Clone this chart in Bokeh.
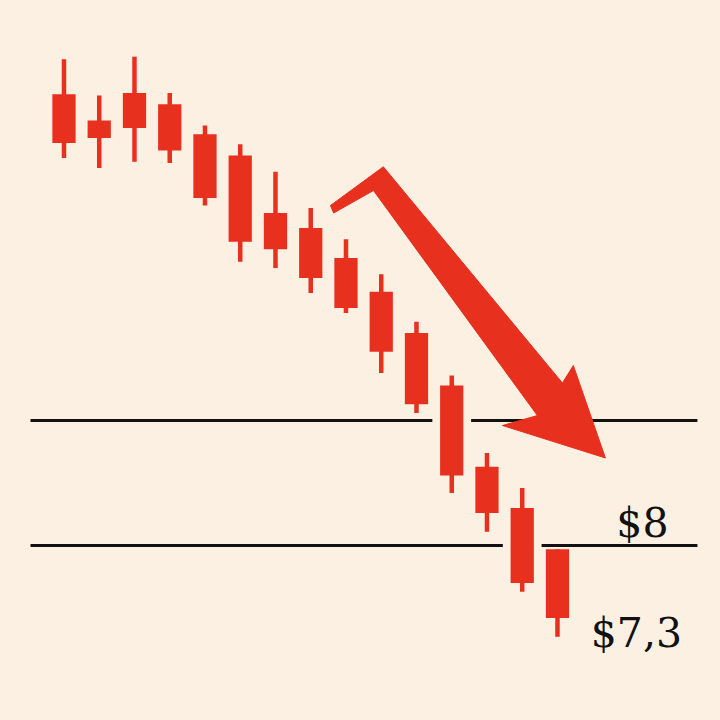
from bokeh.plotting import figure
from bokeh.models import Range1d, ColumnDataSource
from bokeh.core.properties import value
from bokeh.embed import file_html
from bokeh.resources import INLINE

# ---- data (prices) ----
idx = list(range(15))
open_ = [11.61, 11.40, 11.62, 11.53, 11.29, 11.12, 10.66, 10.54, 10.30, 10.03, 9.70, 9.28, 8.63, 8.30, 7.97]
close = [11.22, 11.26, 11.34, 11.16, 10.78, 10.43, 10.37, 10.14, 9.90, 9.55, 9.13, 8.56, 8.26, 7.70, 7.42]
high = [11.89, 11.60, 11.91, 11.62, 11.36, 11.21, 10.99, 10.70, 10.45, 10.17, 9.79, 9.36, 8.74, 8.46, 7.97]
low = [11.10, 11.02, 11.07, 11.06, 10.72, 10.27, 10.22, 10.02, 9.86, 9.38, 9.06, 8.42, 8.11, 7.63, 7.27]

level_prices = [9.0, 8.0]
label_texts = ["$8", "$7,3"]
label_prices = [8.18, 7.30]

arrow_x = [7.56, 9.06, 14.14, 14.45, 15.36, 12.44, 13.43, 8.78, 7.65]
arrow_y = [10.72, 11.03, 9.30, 9.44, 8.70, 8.96, 9.04, 10.84, 10.66]

BG = "#FCF0E3"
RED = "#E8301F"
INK = "#111111"

p = figure(width=704, height=704, output_backend="svg", toolbar_location=None,
           x_range=Range1d(-1.801, 18.171), y_range=Range1d(6.728, 12.36),
           min_border=0)
p.axis.visible = False
p.grid.visible = False
p.outline_line_color = None
p.background_fill_color = BG
p.border_fill_color = BG

src = ColumnDataSource(dict(x=idx, open=open_, close=close, high=high, low=low))

# horizontal levels
for lv in level_prices:
    p.segment(x0=-0.95, y0=lv, x1=17.97, y1=lv, line_color=INK, line_width=3)

# cream halo behind candles (breaks the level lines)
p.vbar(x="x", width=1.1, top="high", bottom="low", source=src,
       fill_color=BG, line_color=None)

# wicks and bodies
p.segment(x0="x", y0="high", x1="x", y1="low", source=src, line_color=RED, line_width=4.5)
p.vbar(x="x", width=0.66, top="open", bottom="close", source=src,
       fill_color=RED, line_color=None)

# arrow
p.patch(arrow_x, arrow_y, fill_color=RED, line_color=RED, line_width=1)

# labels
p.text(x=[16.41, 16.24], y=label_prices, text=label_texts,
       text_font=value("DejaVu Serif"), text_font_size="41px",
       text_color=INK, text_align="center", text_baseline="alphabetic")

html = file_html(p, INLINE)
html = html.replace("<head>", "<head><style>html,body{background:%s;}</style>" % BG, 1)
open("out.html", "w").write(html)
